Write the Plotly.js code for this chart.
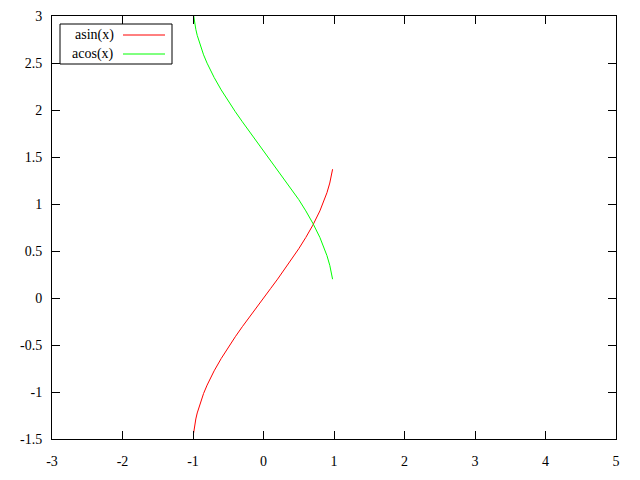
<!DOCTYPE html>
<html><head><meta charset="utf-8">
<script src="https://cdn.plot.ly/plotly-3.0.1.min.js"></script>
<style>html,body{margin:0;padding:0;background:#fff}#c{width:640px;height:480px}</style>
</head><body><div id="c"></div>
<script>
const xs = [-0.991,-0.98,-0.96,-0.94,-0.9,-0.85,-0.8,-0.7,-0.6,-0.5,-0.4,-0.3,-0.2,-0.1,0,0.1,0.2,0.3,0.4,0.5,0.6,0.7,0.8,0.85,0.9,0.94,0.96,0.98];
const asinY = [-1.436,-1.370,-1.287,-1.223,-1.120,-1.016,-0.927,-0.775,-0.644,-0.524,-0.412,-0.305,-0.201,-0.100,0,0.100,0.201,0.305,0.412,0.524,0.644,0.775,0.927,1.016,1.120,1.223,1.287,1.370];
const acosY = [3.007,2.941,2.858,2.794,2.691,2.587,2.498,2.346,2.214,2.094,1.982,1.875,1.772,1.671,1.571,1.471,1.369,1.266,1.159,1.047,0.927,0.795,0.644,0.555,0.451,0.348,0.284,0.200];
const seriesNames = ['asin(x)','acos(x)'];
const seriesColors = ['#ff0000','#00ff00'];
const xTicks = [-3,-2,-1,0,1,2,3,4,5];
const yTicks = [-1.5,-1,-0.5,0,0.5,1,1.5,2,2.5,3];

const font = {family:"'Liberation Serif', 'DejaVu Serif', serif", size:14, color:'#000000'};
const traces = [asinY, acosY].map((y,i)=>({
  x: xs, y: y, mode:'lines', name: seriesNames[i],
  line:{color:seriesColors[i], width:1}, showlegend:false, hoverinfo:'skip'
}));

const W = 564, H = 423;
const px = v => v / W, py = v => v / H;
const shapes = [
  {type:'rect', xref:'paper', yref:'paper', x0:px(8), x1:px(120), y0:1-py(48), y1:1-py(8), line:{color:'#000',width:1}, fillcolor:'#fff', layer:'above'}
];
const annotations = [];
seriesNames.forEach((n,i)=>{
  const yc = 1 - py(19 + i*19);
  annotations.push({xref:'paper', yref:'paper', x:px(64), y:yc, xanchor:'right', yanchor:'middle', text:n, showarrow:false, font:font});
  shapes.push({type:'line', xref:'paper', yref:'paper', x0:px(71), x1:px(113), y0:yc, y1:yc, line:{color:seriesColors[i], width:1}, layer:'above'});
});

const axisCommon = {showgrid:false, zeroline:false, showline:true, linecolor:'#000', linewidth:1,
  mirror:'ticks', ticks:'inside', ticklen:8, tickcolor:'#000', tickwidth:1, tickfont:font};
const layout = {
  width:640, height:480, paper_bgcolor:'#fff', plot_bgcolor:'#fff',
  margin:{l:52, r:24, t:16, b:41},
  xaxis: Object.assign({}, axisCommon, {range:[-3,5], tickvals:xTicks, ticktext:xTicks.map(String), ticklabelstandoff:9}),
  yaxis: Object.assign({}, axisCommon, {range:[-1.5,3], tickvals:yTicks, ticktext:yTicks.map(String), ticklabelstandoff:6}),
  shapes: shapes, annotations: annotations, font: font
};
Plotly.newPlot('c', traces, layout, {staticPlot:true, displayModeBar:false});
</script></body></html>
